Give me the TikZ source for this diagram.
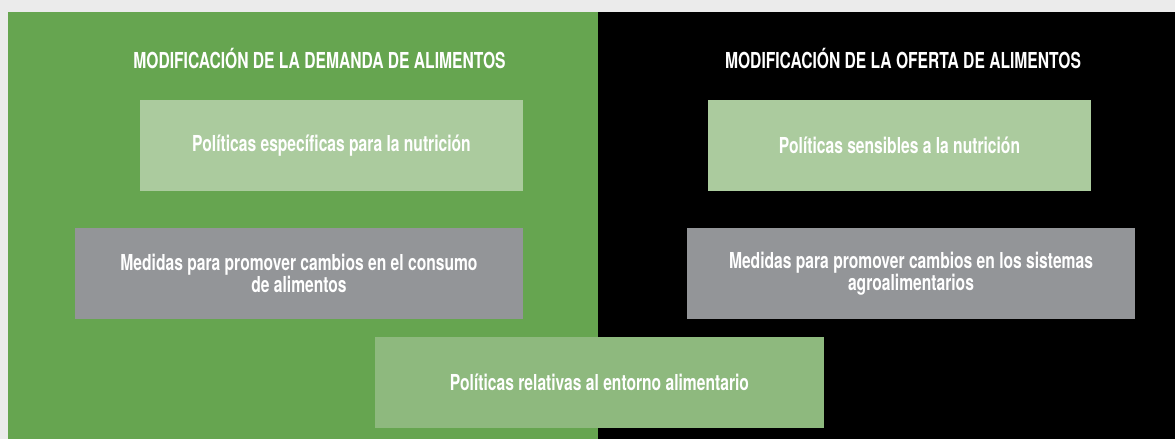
\documentclass[tikz,border=0pt]{standalone}
\usepackage{fontspec}
\newfontfamily\condfont[FakeStretch=0.71]{TeX Gyre Heros}
\usetikzlibrary{positioning}

\definecolor{pagegray}{HTML}{EBEBEB}
\definecolor{demandgreen}{HTML}{66A550}
\definecolor{palegreen}{HTML}{ABCB9E}
\definecolor{midgreen}{HTML}{8EB97E}
\definecolor{boxgray}{HTML}{939598}

\begin{document}
\begin{tikzpicture}[x=1pt, y=-1pt,
    title/.style={text=white, font=\condfont\bfseries\fontsize{22}{22}\selectfont},
    policy/.style={fill=#1, text=white, inner sep=0pt, minimum height=91pt, align=center,
        font=\condfont\bfseries\fontsize{22}{22}\selectfont}]
            % panels
            \fill[pagegray] (0, 0) rectangle (1175, 439);
            \fill[demandgreen] (8, 12) rectangle (598, 439);
            \fill[black] (598, 12) rectangle (1175, 439);
            \useasboundingbox (0, 0) rectangle (1175, 439);

            \node[title] (demanda) at (319.5, 58) {MODIFICACIÓN DE LA DEMANDA DE ALIMENTOS};
            \node[title] (oferta) at (903, 58) {MODIFICACIÓN DE LA OFERTA DE ALIMENTOS};

            \node[policy=palegreen, minimum width=383pt] (especificas) at (331.5, 145.5) {Políticas específicas para la nutrición};
            \node[policy=boxgray, minimum width=448pt] (consumo) at (299, 273.5) {Medidas para promover cambios en el consumo\\de alimentos};

            \node[policy=palegreen, minimum width=383pt] (sensibles) at (899.5, 145.5) {Políticas sensibles a la nutrición};
            \node[policy=boxgray, minimum width=448pt] (sistemas) at (911, 273.5) {Medidas para promover cambios en los sistemas\\agroalimentarios};

            \node[policy=midgreen, minimum width=449pt] (entorno) at (599.5, 382.5) {Políticas relativas al entorno alimentario};
        \end{tikzpicture}
\end{document}
